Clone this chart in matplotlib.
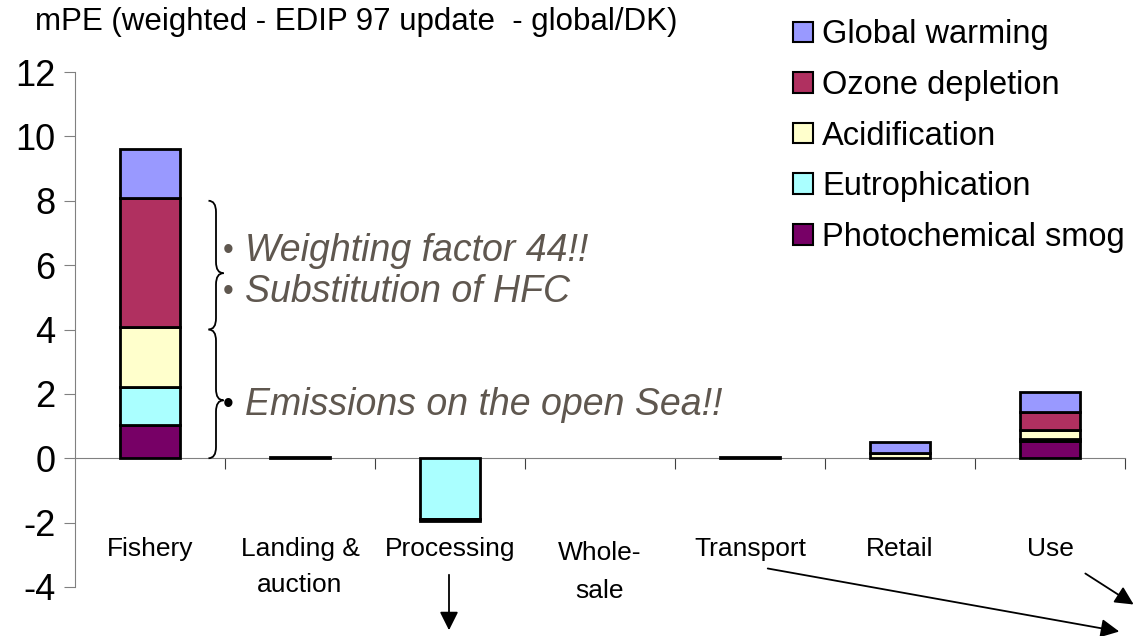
import matplotlib
matplotlib.use('Agg')
import matplotlib.pyplot as plt
from matplotlib.patches import Patch, PathPatch
from matplotlib.path import Path
import numpy as np

plt.rcParams['font.family'] = ['Liberation Sans', 'DejaVu Sans']
plt.rcParams['axes.unicode_minus'] = False

# data (mPE per life-cycle stage)
stages = ['Fishery', 'Landing &\nauction', 'Processing', 'Whole-\nsale',
          'Transport', 'Retail', 'Use']
photochem_smog = [1.02, 0.05, -0.06, 0.0, 0.05, 0.0, 0.55]
eutrophication = [1.20, 0.0, -1.88, 0.0, 0.0, 0.0, 0.05]
acidification = [1.85, 0.0, 0.0, 0.0, 0.0, 0.15, 0.28]
ozone_depletion = [4.00, 0.0, 0.0, 0.0, 0.0, 0.0, 0.55]
global_warming = [1.55, 0.0, 0.0, 0.0, 0.0, 0.35, 0.62]

series_names = ['Photochemical smog', 'Eutrophication', 'Acidification',
                'Ozone depletion', 'Global warming']
series_vals = [photochem_smog, eutrophication, acidification,
               ozone_depletion, global_warming]
colors = ['#770066', '#aaffff', '#ffffcc', '#b03060', '#9999ff']

fig = plt.figure(figsize=(11.38, 6.36), dpi=100)
ax = fig.add_axes([75 / 1138, 1 - 587 / 636, 1050 / 1138, 515 / 636])

x = np.arange(len(stages))
pos_bottom = np.zeros(len(stages))
neg_bottom = np.zeros(len(stages))
# positive parts stacked upward (smog first), negative parts downward (smog outermost)
for vals, col in zip(series_vals, colors):
    v = np.array(vals)
    p = np.where(v > 0, v, 0)
    m = p > 0
    ax.bar(x[m], p[m], 0.4, bottom=pos_bottom[m], color=col, edgecolor='black', lw=2, zorder=3)
    pos_bottom += p
for vals, col in list(zip(series_vals, colors))[::-1]:
    v = np.array(vals)
    n = np.where(v < 0, v, 0)
    m = n < 0
    ax.bar(x[m], n[m], 0.4, bottom=neg_bottom[m], color=col, edgecolor='black', lw=2, zorder=3)
    neg_bottom += n

ax.set_xlim(-0.5, len(stages) - 0.5)
ax.set_ylim(-4, 12)
ax.set_yticks(np.arange(-4, 13, 2))
ax.tick_params(axis='y', direction='out', length=8, color='#808080', labelsize=26, pad=6)
ax.set_xticks(np.arange(0.5, len(stages), 1))
ax.set_xticklabels([])
ax.tick_params(axis='x', direction='out', length=8, color='#404040')
for s in ['top', 'right']:
    ax.spines[s].set_visible(False)
ax.spines['left'].set_color('#808080')
ax.spines['bottom'].set_position(('data', 0))
ax.spines['bottom'].set_color('#808080')
ax.spines['bottom'].set_zorder(2)

# category labels placed below the zero line, one text per line
for i, name in enumerate(stages):
    lines = name.split('\n')
    y0 = -2.95 if name.startswith('Whole') else -2.82
    step = 1.18 if name.startswith('Whole') else 1.13
    for k, ln in enumerate(lines):
        ax.text(i, y0 - k * step, ln, ha='center', va='center', fontsize=19)

fig.text(35 / 1138, 1 - 22 / 636, 'mPE (weighted - EDIP 97 update  - global/DK)',
         fontsize=22.5, va='center', ha='left')

handles = [Patch(facecolor=c, edgecolor='black', lw=1.5, label=n)
           for n, c in zip(series_names, colors)][::-1]
fig.legend(handles=handles, loc='upper left', bbox_to_anchor=(780 / 1138, 0.99),
           frameon=False, fontsize=23.5, handlelength=0.6, handleheight=0.6,
           handletextpad=0.3, labelspacing=0.6, borderaxespad=0)


def brace(y0, y1, ytip, x0=0.39, x1=0.49, d=0.35):
    xm = (x0 + x1) / 2
    verts = [(x0, y1), (xm, y1), (xm, y1 - d), (xm, ytip + d), (xm, ytip), (x1, ytip),
             (xm, ytip), (xm, ytip - d), (xm, y0 + d), (xm, y0), (x0, y0)]
    codes = [Path.MOVETO, Path.CURVE3, Path.CURVE3, Path.LINETO, Path.CURVE3, Path.CURVE3,
             Path.CURVE3, Path.CURVE3, Path.LINETO, Path.CURVE3, Path.CURVE3]
    ax.add_patch(PathPatch(Path(verts, codes), fill=False, lw=1.3, color='black', zorder=4))


brace(4.0, 8.0, 5.75)
brace(0.0, 4.0, 1.8)

note_col = '#5f574f'
notes = [(6.45, 'Weighting factor 44!!', note_col),
         (5.15, 'Substitution of HFC', note_col),
         (1.65, 'Emissions on the open Sea!!', 'black')]
for yv, txt, bullet_col in notes:
    ax.text(0.52, yv, '\u2022', color=bullet_col, fontsize=22, va='center', ha='center')
    ax.text(0.635, yv, txt, color=note_col, fontsize=27, style='italic',
            va='center', ha='left')

# arrows pointing out of the chart (figure pixels, origin bottom-left)
arrow = dict(arrowstyle='-|>', color='black', lw=1.3, mutation_scale=28)
for start, end in [((449, 64), (449, 3)), ((765, 68), (1122, 4)), ((1083, 64), (1136, 30))]:
    ax.annotate('', xy=end, xytext=start, xycoords='figure pixels',
                textcoords='figure pixels', arrowprops=arrow, annotation_clip=False)

fig.savefig('out.png', dpi=100)
